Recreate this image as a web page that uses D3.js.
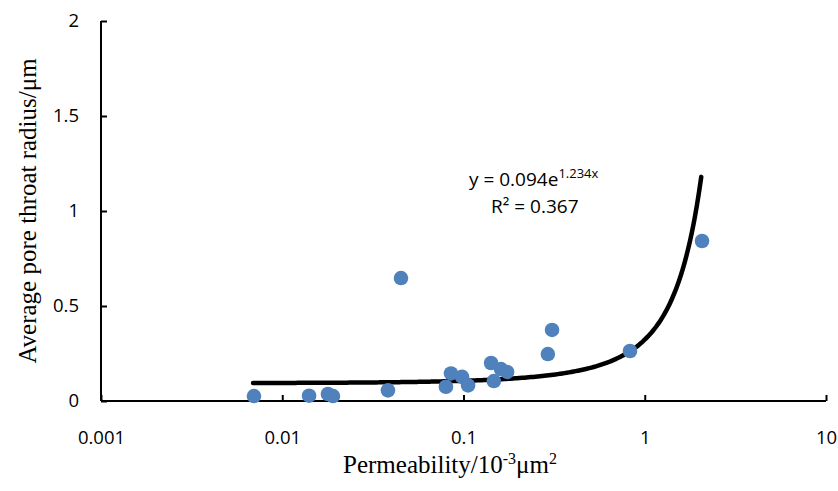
<!DOCTYPE html>
<html>
<head>
<meta charset="utf-8">
<script src="https://cdn.jsdelivr.net/npm/d3@7"></script>
<style>
  body { margin: 0; background: #fff; }
  svg { display: block; }
</style>
</head>
<body>
<svg id="chart"></svg>
<script>
// permeability (10^-3 um^2) and average pore throat radius (um)
const permeability = [0.00698, 0.01406, 0.01787, 0.01905, 0.0383, 0.0452, 0.080, 0.0853, 0.0982, 0.106,
                      0.142, 0.147, 0.161, 0.174, 0.292, 0.308, 0.829, 2.07];
const radius = [0.026, 0.028, 0.037, 0.026, 0.056, 0.647, 0.075, 0.145, 0.127, 0.082,
                0.200, 0.105, 0.168, 0.153, 0.247, 0.374, 0.263, 0.842];
const xTicks = [0.001, 0.01, 0.1, 1, 10];
const xTickLabels = ["0.001", "0.01", "0.1", "1", "10"];
const yTicks = [0, 0.5, 1, 1.5, 2];
const yTickLabels = ["0", "0.5", "1", "1.5", "2"];
// exponential trendline y = a*e^(b*x)
const trendA = 0.094, trendB = 1.234;
const trendRange = [0.0069, 2.05];

const width = 838, height = 491;
const svg = d3.select("#chart").attr("width", width).attr("height", height);

const x = d3.scaleLog().domain([0.001, 10]).range([101, 826]);
const y = d3.scaleLinear().domain([0, 2]).range([401, 21]);

const tickFont = "'Open Sans', 'Liberation Sans', sans-serif";

// axes
const xAxis = svg.append("g").attr("transform", `translate(0,${y(0)})`)
  .call(d3.axisBottom(x).tickValues(xTicks).tickSize(-6).tickFormat((d, i) => xTickLabels[i]).tickPadding(30));
const yAxis = svg.append("g").attr("transform", `translate(${x(0.001)},0)`)
  .call(d3.axisLeft(y).tickValues(yTicks).tickSize(-6).tickFormat((d, i) => yTickLabels[i]).tickPadding(22));

[xAxis, yAxis].forEach(g => {
  g.select(".domain").attr("stroke", "#000").attr("stroke-width", 2);
  g.selectAll(".tick line").attr("stroke", "#000").attr("stroke-width", 2);
  g.selectAll(".tick text").attr("fill", "#000")
    .style("font-family", tickFont).style("font-size", "18.5px");
});
// keep domain without outer ticks
xAxis.select(".domain").attr("d", `M${x(0.001)},0H${x(10)}`);
yAxis.select(".domain").attr("d", `M0,${y(0)}V${y(2)}`);

// trend line
const trendX = d3.range(0, 201).map(i => Math.exp(Math.log(trendRange[0]) + i / 200 * (Math.log(trendRange[1]) - Math.log(trendRange[0]))));
svg.append("path")
  .datum(trendX)
  .attr("fill", "none")
  .attr("stroke", "#000")
  .attr("stroke-width", 4.5)
  .attr("stroke-linecap", "round")
  .attr("d", d3.line().x(d => x(d)).y(d => y(trendA * Math.exp(trendB * d))).curve(d3.curveMonotoneX));

// points
svg.append("g").selectAll("circle")
  .data(permeability.map((p, i) => [p, radius[i]]))
  .join("circle")
  .attr("cx", d => x(d[0]))
  .attr("cy", d => y(d[1]))
  .attr("r", 7.3)
  .attr("fill", "#4f81bd");

// equation
const eq = svg.append("text")
  .attr("x", 469).attr("y", 186)
  .style("font-family", tickFont).style("font-size", "19px").attr("fill", "#000");
eq.append("tspan").text("y = 0.094e");
eq.append("tspan").attr("dy", -8).style("font-size", "13px").text("1.234x");
const r2 = svg.append("text")
  .attr("x", 491).attr("y", 213)
  .style("font-family", tickFont).style("font-size", "19px").attr("fill", "#000");
r2.append("tspan").text("R² = 0.367");

// axis titles
const serif = "'Liberation Serif', 'Times New Roman', serif";
const xt = svg.append("text")
  .attr("x", 450).attr("y", 473).attr("text-anchor", "middle")
  .style("font-family", serif).style("font-size", "25px").attr("fill", "#000");
xt.append("tspan").text("Permeability/10");
xt.append("tspan").attr("dy", -9).style("font-size", "16px").text("-3");
xt.append("tspan").attr("dy", 9).text("μm");
xt.append("tspan").attr("dy", -9).style("font-size", "16px").text("2");

svg.append("text")
  .attr("transform", "translate(36,211) rotate(-90)")
  .attr("text-anchor", "middle")
  .style("font-family", serif).style("font-size", "25px").attr("fill", "#000")
  .text("Average pore throat radius/μm");
</script>
</body>
</html>
